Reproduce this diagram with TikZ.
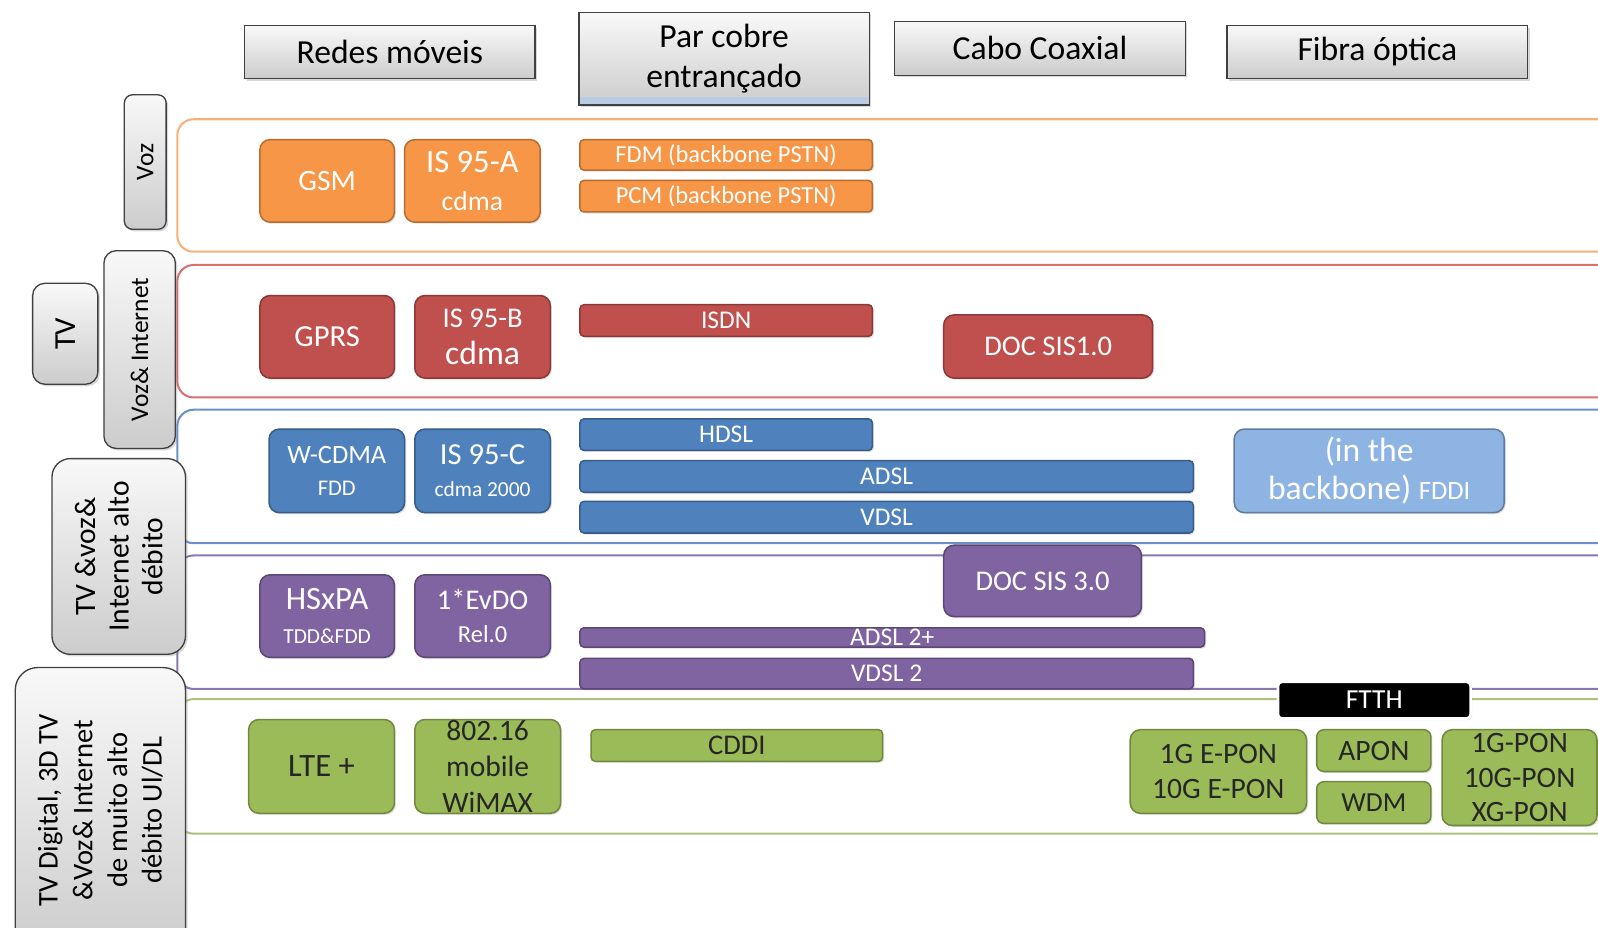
\documentclass[tikz,border=0pt]{standalone}
\usepackage{fontspec}
\setmainfont{Carlito}
\usetikzlibrary{shadows}
\definecolor{org}{HTML}{F79646}
\definecolor{orgD}{HTML}{B66D31}
\definecolor{orgL}{HTML}{F8B07A}
\definecolor{redc}{HTML}{C0504D}
\definecolor{redD}{HTML}{8C3836}
\definecolor{redL}{HTML}{D9716E}
\definecolor{bluc}{HTML}{4F81BD}
\definecolor{bluD}{HTML}{385D8A}
\definecolor{bluL}{HTML}{6D8FC9}
\definecolor{lblu}{HTML}{8DB4E2}
\definecolor{purc}{HTML}{8064A2}
\definecolor{purD}{HTML}{5C4776}
\definecolor{purL}{HTML}{8A77B0}
\definecolor{grnc}{HTML}{9BBB59}
\definecolor{grnD}{HTML}{71893F}
\definecolor{grnL}{HTML}{A9C47A}
\definecolor{stripc}{HTML}{B8CCE4}
\newcommand\fs[2]{\fontsize{#1}{#2}\selectfont}
% box by corners: name, x1, y1, x2, y2, style, text
\newcommand\bx[7]{\node[#6, minimum width={#4-#2}, minimum height={#5-#3}] (#1) at ({(#2+#4)/2},{(#3+#5)/2}) {#7};}
% rotated box by corners
\newcommand\vbx[7]{\node[#6, rotate=90, minimum width={#5-#3}, minimum height={#4-#2}] (#1) at ({(#2+#4)/2},{(#3+#5)/2}) {#7};}
\tikzset{
  item/.style={rounded corners=10pt, draw, line width=1.5pt, inner sep=0pt, outer sep=0pt, align=center, text=white,
    drop shadow={opacity=0.25, shadow xshift=1.5pt, shadow yshift=-1.5pt}},
  barbox/.style={item, rounded corners=4pt},
  orgbox/.style={fill=org, draw=orgD},
  redbox/.style={fill=redc, draw=redD},
  blubox/.style={fill=bluc, draw=bluD},
  purbox/.style={fill=purc, draw=purD},
  grnbox/.style={fill=grnc, draw=grnD, text=black!85},
  hdr/.style={draw=black!75, line width=1.3pt, top color=gray!5, bottom color=gray!40, inner sep=0pt, outer sep=0pt, align=center,
    drop shadow={opacity=0.3, shadow xshift=2pt, shadow yshift=-2pt}, font=\fs{33}{39}},
  side/.style={hdr, rounded corners=12pt},
  band/.style={draw, line width=2pt, rounded corners=16pt}
}
\begin{document}
\begin{tikzpicture}[x=1pt,y=-1pt]
\useasboundingbox[fill=white] (0,0) rectangle (1568,910);

% bands
\draw[band, draw=orgL] (174,117) rectangle (1600,247);
\draw[band, draw=redL] (174,260) rectangle (1600,390);
\draw[band, draw=bluL] (174,402) rectangle (1600,533);
\draw[band, draw=purL] (174,545) rectangle (1600,676);
\draw[band, draw=grnL] (174,686) rectangle (1600,818);

% headers
\bx{h1}{240}{25}{525}{77}{hdr}{Redes móveis}
\bx{h2}{568}{12}{853}{103}{hdr}{Par cobre\\entrançado}
\fill[stripc] ([xshift=1pt,yshift=1pt]h2.south west) rectangle ([xshift=-1pt,yshift=8pt]h2.south east);
\draw[draw=black!75, line width=1.3pt] (h2.south west) rectangle (h2.north east);
\bx{h3}{878}{21}{1163}{74}{hdr}{Cabo Coaxial}
\bx{h4}{1204}{25}{1499}{77}{hdr}{Fibra óptica}

% side labels
\vbx{s1}{122}{93}{163}{225}{side, rounded corners=8pt, font=\fs{25}{28}}{Voz}
\vbx{s3}{102}{246}{172}{440}{side, font=\fs{25}{29}}{Voz\& Internet}
\vbx{s2}{32}{278}{96}{377}{side, font=\fs{30}{34}}{TV}
\vbx{s4}{51}{450}{182}{642}{side, rounded corners=18pt, font=\fs{29}{33}}{TV \&voz\&\\Internet alto\\débito}
\vbx{s5}{15}{655}{182}{935}{side, rounded corners=22pt, font=\fs{28}{34}}{TV Digital, 3D TV\\\&Voz\& Internet\\de muito alto\\débito Ul/DL}

% orange row
\bx{gsm}{255}{137}{387}{218}{item, orgbox, font=\fs{29}{32}}{GSM}
\bx{isa}{397}{137}{530}{218}{item, orgbox, font=\fs{32}{37}}{IS 95-A\\{\fs{27}{30}cdma}}
\bx{fdm}{569}{137}{856}{167}{barbox, orgbox, font=\fs{24}{26}}{FDM (backbone PSTN)}
\bx{pcm}{569}{177}{856}{208}{barbox, orgbox, font=\fs{24}{26}}{PCM (backbone PSTN)}

% red row
\bx{gprs}{255}{290}{387}{371}{item, redbox, font=\fs{30}{32}}{GPRS}
\bx{isb}{407}{290}{540}{371}{item, redbox, font=\fs{28}{37}}{IS 95-B\\{\fs{33}{36}cdma}}
\bx{isdn}{569}{299}{856}{330}{barbox, redbox, font=\fs{25}{27}}{ISDN}
\bx{doc1}{926}{309}{1131}{371}{item, redbox, font=\fs{28}{30}}{DOC SIS1.0}

% blue row
\bx{wcdma}{264}{421}{397}{503}{item, blubox, font=\fs{26}{31}}{W-CDMA\\{\fs{22}{24}FDD}}
\bx{isc}{407}{421}{540}{503}{item, blubox, font=\fs{30}{32}}{IS 95-C\\{\fs{21}{24}cdma 2000}}
\bx{hdsl}{569}{411}{856}{442}{barbox, blubox, font=\fs{25}{27}}{HDSL}
\bx{adsl}{569}{452}{1171}{483}{barbox, blubox, font=\fs{25}{27}}{ADSL}
\bx{vdsl}{569}{492}{1171}{523}{barbox, blubox, font=\fs{25}{27}}{VDSL}
\bx{fddi}{1211}{421}{1476}{503}{item, fill=lblu, draw=bluD!80, font=\fs{33}{37}}{(in the\\backbone) {\fs{26}{28}FDDI}}

% purple row
\bx{hsxpa}{255}{564}{387}{645}{item, purbox, font=\fs{32}{33}}{HSxPA\\{\fs{21}{24}TDD\&FDD}}
\bx{evdo}{407}{564}{540}{645}{item, purbox, font=\fs{28}{33}}{1*EvDO\\{\fs{24}{26}Rel.0}}
\bx{doc3}{926}{535}{1120}{605}{item, purbox, font=\fs{28}{30}}{DOC SIS 3.0}
\bx{adsl2}{569}{616}{1182}{635}{barbox, purbox, font=\fs{25}{27}}{ADSL 2+}
\bx{vdsl2}{569}{646}{1171}{676}{barbox, purbox, font=\fs{25}{27}}{VDSL 2}

% green row
\bx{lte}{244}{706}{387}{798}{item, grnbox, font=\fs{32}{34}}{LTE +}
\bx{wimax}{407}{706}{550}{798}{item, grnbox, font=\fs{29}{35}}{802.16\\mobile\\WiMAX}
\bx{cddi}{580}{716}{866}{747}{barbox, grnbox, font=\fs{28}{30}}{CDDI}
\bx{ftth}{1254}{669}{1443}{705}{barbox, fill=black, draw=white, line width=2.5pt, text=white, font=\fs{27}{29}}{FTTH}
\bx{epon}{1109}{716}{1282}{798}{item, grnbox, font=\fs{29}{35}}{1G E-PON\\10G E-PON}
\bx{apon}{1292}{716}{1404}{757}{item, rounded corners=7pt, grnbox, font=\fs{29}{30}}{APON}
\bx{wdm}{1292}{767}{1404}{808}{item, rounded corners=7pt, grnbox, font=\fs{27}{30}}{WDM}
\bx{gpon}{1415}{716}{1567}{810}{item, grnbox, font=\fs{29}{34}}{1G-PON\\10G-PON\\XG-PON}
\end{tikzpicture}
\end{document}
